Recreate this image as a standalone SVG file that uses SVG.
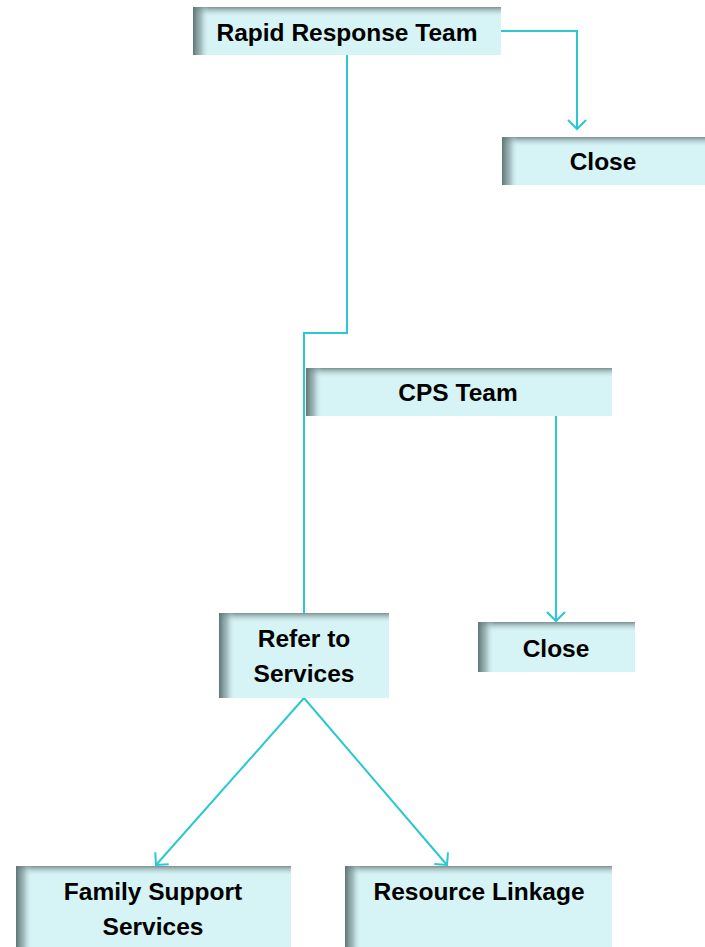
<svg xmlns="http://www.w3.org/2000/svg" width="705" height="947" viewBox="0 0 705 947">
<defs>
<linearGradient id="gl" x1="0" y1="0" x2="1" y2="0">
<stop offset="0" stop-color="#5f7475" stop-opacity="1"/>
<stop offset="0.5" stop-color="#7f9899" stop-opacity="0.6"/>
<stop offset="1" stop-color="#d6f3f5" stop-opacity="0"/>
</linearGradient>
<linearGradient id="gt" x1="0" y1="0" x2="0" y2="1">
<stop offset="0" stop-color="#7b8f90" stop-opacity="1"/>
<stop offset="1" stop-color="#d6f3f5" stop-opacity="0"/>
</linearGradient>
<marker id="arr" markerWidth="20" markerHeight="22" refX="10" refY="11" orient="auto" markerUnits="userSpaceOnUse">
<path d="M1,2 L10,11 L1,20" fill="none" stroke="#2ac8d0" stroke-width="2"/>
</marker>
</defs>
<style>
.box{fill:#d6f3f5}
.lbl{font-family:"Liberation Sans",Arial,sans-serif;font-weight:bold;font-size:24.5px;fill:#000;text-anchor:middle}
.c{fill:none;stroke:#2ac8d0;stroke-width:2}
</style>
<g id="connectors">
<path class="c" d="M501,31 H577 V129" marker-end="url(#arr)"/>
<path class="c" d="M347,55 V333 H304 V613"/>
<path class="c" d="M556,416 V621" marker-end="url(#arr)"/>
<path class="c" d="M304,698 L156,865" marker-end="url(#arr)"/>
<path class="c" d="M304,698 L447,865" marker-end="url(#arr)"/>
</g>
<g id="rapid">
<rect class="box" x="193" y="7" width="308" height="48"/>
<rect x="193" y="7" width="308" height="10" fill="url(#gt)"/>
<rect x="193" y="7" width="16" height="48" fill="url(#gl)"/>
<text class="lbl" x="347" y="41">Rapid Response Team</text>
</g>
<g id="close1">
<rect class="box" x="502" y="137" width="203" height="48"/>
<rect x="502" y="137" width="203" height="10" fill="url(#gt)"/>
<rect x="502" y="137" width="16" height="48" fill="url(#gl)"/>
<text class="lbl" x="603" y="170">Close</text>
</g>
<g id="cps">
<rect class="box" x="306" y="368" width="306" height="48"/>
<rect x="306" y="368" width="306" height="10" fill="url(#gt)"/>
<rect x="306" y="368" width="16" height="48" fill="url(#gl)"/>
<text class="lbl" x="458" y="401">CPS Team</text>
</g>
<g id="refer">
<rect class="box" x="219" y="613" width="170" height="85"/>
<rect x="219" y="613" width="170" height="10" fill="url(#gt)"/>
<rect x="219" y="613" width="16" height="85" fill="url(#gl)"/>
<text class="lbl" x="304" y="647">Refer to</text>
<text class="lbl" x="304" y="682">Services</text>
</g>
<g id="close2">
<rect class="box" x="478" y="622" width="157" height="50"/>
<rect x="478" y="622" width="157" height="10" fill="url(#gt)"/>
<rect x="478" y="622" width="16" height="50" fill="url(#gl)"/>
<text class="lbl" x="556" y="657">Close</text>
</g>
<g id="family">
<rect class="box" x="16" y="866" width="275" height="81"/>
<rect x="16" y="866" width="275" height="10" fill="url(#gt)"/>
<rect x="16" y="866" width="16" height="81" fill="url(#gl)"/>
<text class="lbl" x="153" y="900">Family Support</text>
<text class="lbl" x="153" y="935">Services</text>
</g>
<g id="resource">
<rect class="box" x="345" y="866" width="267" height="81"/>
<rect x="345" y="866" width="267" height="10" fill="url(#gt)"/>
<rect x="345" y="866" width="16" height="81" fill="url(#gl)"/>
<text class="lbl" x="479" y="900">Resource Linkage</text>
</g>
</svg>
